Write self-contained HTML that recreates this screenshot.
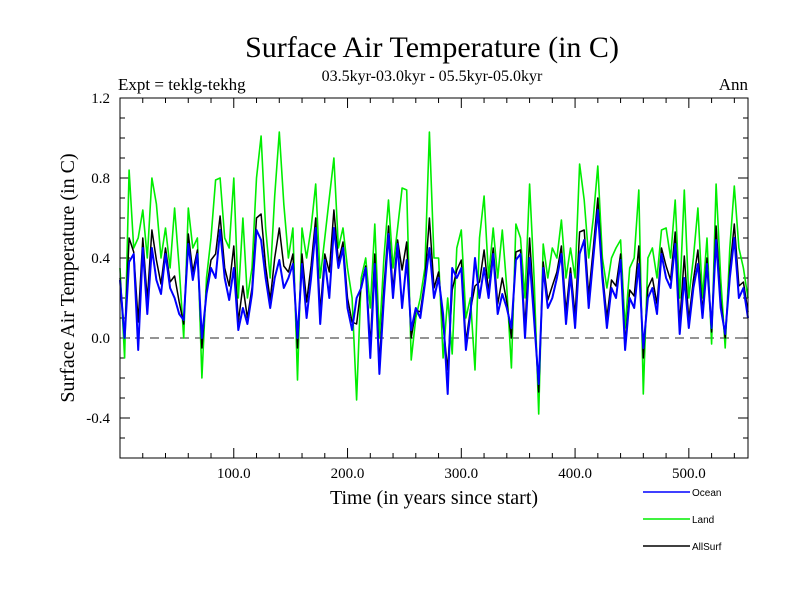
<!DOCTYPE html>
<html><head><meta charset="utf-8"><style>
body{margin:0;background:#fff;width:800px;height:600px;overflow:hidden}
svg text{font-family:"Liberation Serif",serif}
svg #legend text{font-family:"Liberation Sans",sans-serif}
</style></head><body>
<svg id="chart" width="800" height="600" xmlns="http://www.w3.org/2000/svg">
<text x="432" y="57" font-size="30" text-anchor="middle">Surface Air Temperature (in C)</text>
<text x="432" y="81" font-size="16" text-anchor="middle">03.5kyr-03.0kyr - 05.5kyr-05.0kyr</text>
<text x="118" y="90" font-size="17">Expt = teklg-tekhg</text>
<text x="748" y="90" font-size="17" text-anchor="end">Ann</text>
<text transform="translate(74,278) rotate(-90)" font-size="20" text-anchor="middle">Surface Air Temperature (in C)</text>
<text x="434" y="504" font-size="20" text-anchor="middle">Time (in years since start)</text>
<g id="ticks"></g>
<g id="series"></g>
<rect x="120" y="98" width="628" height="360" fill="none" stroke="#000" stroke-width="1"/>
<g id="legend"></g>
</svg>
<script>
const ocean=[0.29,0.0,0.38,0.42,-0.06,0.45,0.12,0.45,0.29,0.22,0.42,0.25,0.2,0.12,0.09,0.47,0.29,0.42,0.0,0.22,0.35,0.3,0.54,0.3,0.19,0.35,0.04,0.15,0.07,0.22,0.54,0.49,0.3,0.15,0.3,
0.39,0.25,0.3,0.37,0.0,0.37,0.1,0.3,0.55,0.07,0.39,0.2,0.55,0.35,0.45,0.15,0.04,0.2,0.25,0.35,-0.1,0.37,-0.18,0.2,0.52,0.2,0.47,0.15,0.39,0.04,0.15,0.1,0.27,0.45,0.2,
0.3,0.12,-0.28,0.35,0.3,0.35,-0.06,0.12,0.4,0.2,0.35,0.2,0.42,0.12,0.22,0.15,0.05,0.39,0.42,0.0,0.4,0.09,-0.23,0.35,0.15,0.2,0.3,0.42,0.07,0.32,0.05,0.42,0.49,0.15,
0.4,0.64,0.3,0.05,0.25,0.2,0.39,-0.06,0.2,0.15,0.37,-0.05,0.2,0.25,0.12,0.42,0.3,0.25,0.47,0.02,0.3,0.05,0.25,0.37,0.1,0.37,0.05,0.49,0.15,0.02,0.3,0.5,0.2,0.25,0.1];
const land=[0.35,-0.1,0.84,0.45,0.5,0.64,0.4,0.8,0.67,0.4,0.55,0.35,0.65,0.35,0.0,0.65,0.45,0.5,-0.2,0.3,0.5,0.79,0.8,0.5,0.45,0.8,0.2,0.6,0.2,0.35,0.8,1.01,0.55,0.3,0.71,
1.03,0.67,0.4,0.55,-0.21,0.55,0.4,0.55,0.77,0.3,0.5,0.7,0.9,0.45,0.55,0.35,0.2,-0.31,0.3,0.4,0.15,0.57,0.0,0.4,0.69,0.35,0.55,0.75,0.74,-0.11,0.1,0.2,0.35,1.03,0.4,
0.4,-0.1,0.2,-0.08,0.45,0.54,0.1,0.2,-0.16,0.5,0.71,0.3,0.55,0.3,0.54,0.25,-0.15,0.57,0.5,0.2,0.77,0.3,-0.38,0.47,0.3,0.45,0.4,0.59,0.3,0.45,0.3,0.87,0.69,0.4,
0.6,0.86,0.4,0.25,0.4,0.45,0.49,0.05,0.35,0.4,0.74,-0.28,0.4,0.45,0.3,0.54,0.55,0.4,0.69,0.2,0.74,0.2,0.4,0.65,0.2,0.5,-0.03,0.77,0.3,-0.05,0.45,0.76,0.45,0.35,0.2];
const allSurf=[0.3,0.0,0.5,0.43,0.08,0.5,0.19,0.54,0.39,0.27,0.45,0.28,0.31,0.18,0.07,0.52,0.33,0.44,-0.05,0.24,0.39,0.42,0.61,0.35,0.26,0.46,0.08,0.26,0.1,0.25,0.6,0.62,0.36,0.19,0.4,
0.55,0.36,0.33,0.42,-0.05,0.42,0.18,0.36,0.6,0.13,0.42,0.33,0.64,0.38,0.48,0.2,0.08,0.07,0.26,0.36,-0.04,0.42,-0.13,0.25,0.56,0.24,0.49,0.34,0.48,0.0,0.14,0.13,0.29,0.6,0.25,
0.33,0.07,-0.16,0.24,0.34,0.39,-0.02,0.14,0.26,0.28,0.44,0.23,0.45,0.17,0.3,0.18,0.0,0.43,0.44,0.05,0.5,0.14,-0.27,0.38,0.19,0.26,0.33,0.46,0.13,0.35,0.11,0.53,0.54,0.21,
0.45,0.7,0.33,0.1,0.29,0.26,0.42,-0.03,0.24,0.21,0.46,-0.1,0.25,0.3,0.17,0.45,0.36,0.29,0.53,0.07,0.41,0.09,0.29,0.44,0.13,0.4,0.03,0.56,0.19,0.0,0.34,0.57,0.26,0.28,0.13];
const yearStep=4;
const yTickLabels=["1.2","0.8","0.4","0.0","-0.4"];
const yTickValues=[1.2,0.8,0.4,0.0,-0.4];
const xTickLabels=["100.0","200.0","300.0","400.0","500.0"];
const xTickValues=[100,200,300,400,500];
const seriesNames=["Ocean","Land","AllSurf"];

const X0=120,X1=748,Y0=98,Y1=458,xMin=0,xMax=552,yMin=-0.6,yMax=1.2;
const sx=v=>X0+(v-xMin)/(xMax-xMin)*(X1-X0);
const sy=v=>Y1-(v-yMin)/(yMax-yMin)*(Y1-Y0);
const NS="http://www.w3.org/2000/svg";
function mk(tag,attrs,parent){const e=document.createElementNS(NS,tag);for(const k in attrs)e.setAttribute(k,attrs[k]);parent.appendChild(e);return e;}
const tk=document.getElementById('ticks');
for(let k=-6;k<=12;k++){const v=k/10;const y=sy(v);const major=((k%4)+4)%4===0;
 const l=mk('line',{x1:X0,x2:X0+(major?10:5),y1:y,y2:y,stroke:'#000'},tk);
 
 
 const r=mk('line',{x1:X1,x2:X1-(major?10:5),y1:y,y2:y,stroke:'#000'},tk);
 
 }
for(let v=20;v<xMax;v+=20){const x=sx(v);const major=v%100===0;
 const b=mk('line',{x1:x,x2:x,y1:Y1,y2:Y1-(major?10:5),stroke:'#000'},tk);
 
 
 const t=mk('line',{x1:x,x2:x,y1:Y0,y2:Y0+(major?10:5),stroke:'#000'},tk);
 
 }
yTickValues.forEach((v,i)=>{const t=mk('text',{x:110,y:sy(v)+5,'font-size':15,'text-anchor':'end'},tk);t.textContent=yTickLabels[i];
 
 });
xTickValues.forEach((v,i)=>{const t=mk('text',{x:sx(v),y:478,'font-size':15,'text-anchor':'middle'},tk);t.textContent=xTickLabels[i];
 
 });
const zl=mk('line',{x1:X0,x2:X1,y1:sy(0),y2:sy(0),stroke:'#555','stroke-dasharray':'9,6','stroke-width':1.2},tk);


const sg=document.getElementById('series');
function drawSeries(data,color,w,name){const pts=data.map((v,i)=>sx(Math.min(i*yearStep,xMax)).toFixed(1)+','+sy(v).toFixed(1)).join(' ');
 const p=mk('polyline',{points:pts,fill:'none',stroke:color,'stroke-width':w,'stroke-linejoin':'round'},sg);
 
 }
drawSeries(land,'#00ee00',1.6,'land-line');
drawSeries(allSurf,'#000',1.5,'allsurf-line');
drawSeries(ocean,'#0000ff',2,'ocean-line');
const lg=document.getElementById('legend');
const lcol=['#0000ff','#00ee00','#000'];
seriesNames.forEach((n,i)=>{const y=492+i*27;
 const l=mk('line',{x1:643,x2:690,y1:y,y2:y,stroke:lcol[i],'stroke-width':1.5},lg);
 
 
 const t=mk('text',{x:692,y:y+4,'font-size':10},lg);t.textContent=n;
 
 });
</script>
</body></html>
